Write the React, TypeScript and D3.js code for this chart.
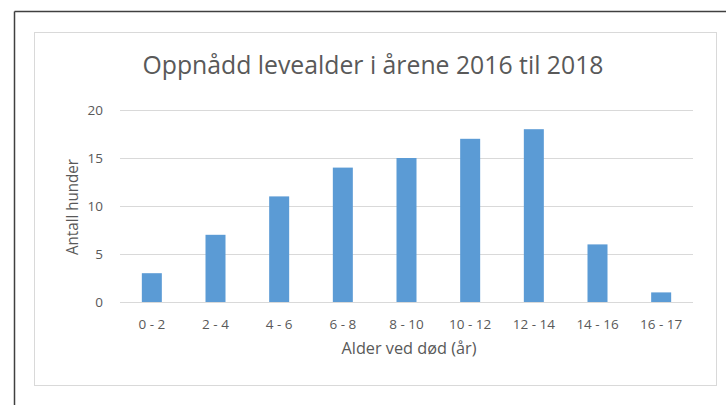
import React from 'react';
import { scaleBand, scaleLinear } from 'd3';

const categories = ['0 - 2', '2 - 4', '4 - 6', '6 - 8', '8 - 10', '10 - 12', '12 - 14', '14 - 16', '16 - 17'];
const antall = [3, 7, 11, 14, 15, 17, 18, 6, 1];
const yTicks = [0, 5, 10, 15, 20];

const title = 'Oppnådd levealder i årene 2016 til 2018';
const xTitle = 'Alder ved død (år)';
const yTitle = 'Antall hunder';

const W = 726;
const H = 405;
const plot = { left: 120, right: 693, top: 110, bottom: 302 };
const font = '"Open Sans", "Noto Sans", sans-serif';
const textCol = '#595959';

const App = () => {
  const x = scaleBand<string>()
    .domain(categories)
    .range([plot.left, plot.right])
    .paddingInner(0)
    .paddingOuter(0);

  const y = scaleLinear().domain([0, 20]).range([plot.bottom, plot.top]);

  const barW = 20;

  return (
    <svg
      width={W}
      height={H}
      style={{ position: 'absolute', left: 0, top: 0, background: '#fff' }}
      fontFamily={font}
    >
      {/* outer frame: only top and left are visible */}
      <line x1={14.5} y1={11.5} x2={W} y2={11.5} stroke="#404040" strokeWidth={1.5} />
      <line x1={14.5} y1={11.5} x2={14.5} y2={H} stroke="#404040" strokeWidth={1.5} />
      {/* chart area */}
      <rect x={34.5} y={32.5} width={682} height={353} fill="#fff" stroke="#d9d9d9" strokeWidth={1} />

      <text
        x={373}
        y={74}
        textAnchor="middle"
        fontSize={25}
        fill={textCol}
        textLength={461}
        lengthAdjust="spacingAndGlyphs"
      >
        {title}
      </text>

      {yTicks.map(t => (
        <g key={t}>
          <line x1={plot.left} x2={plot.right} y1={Math.round(y(t)) + 0.5} y2={Math.round(y(t)) + 0.5} stroke="#d9d9d9" strokeWidth={1} />
          <text x={103} y={y(t)} dy="0.35em" textAnchor="end" fontSize={13.5} fill={textCol}>
            {t}
          </text>
        </g>
      ))}

      {antall.map((v, i) => (
        <rect
          key={categories[i]}
          x={(x(categories[i]) as number) + x.bandwidth() / 2 - barW / 2}
          y={y(v)}
          width={barW}
          height={y(0) - y(v)}
          fill="#5b9bd5"
        />
      ))}

      {categories.map(c => (
        <text key={c} x={(x(c) as number) + x.bandwidth() / 2} y={329} textAnchor="middle" fontSize={13.5} fill={textCol}>
          {c}
        </text>
      ))}

      <text x={409} y={354} textAnchor="middle" fontSize={15.5} fill={textCol} textLength={135} lengthAdjust="spacingAndGlyphs">
        {xTitle}
      </text>

      <text
        transform={`translate(78, 207) rotate(-90)`}
        textAnchor="middle"
        fontSize={15.5}
        fill={textCol}
        textLength={96}
        lengthAdjust="spacingAndGlyphs"
      >
        {yTitle}
      </text>
    </svg>
  );
};

export default App;
